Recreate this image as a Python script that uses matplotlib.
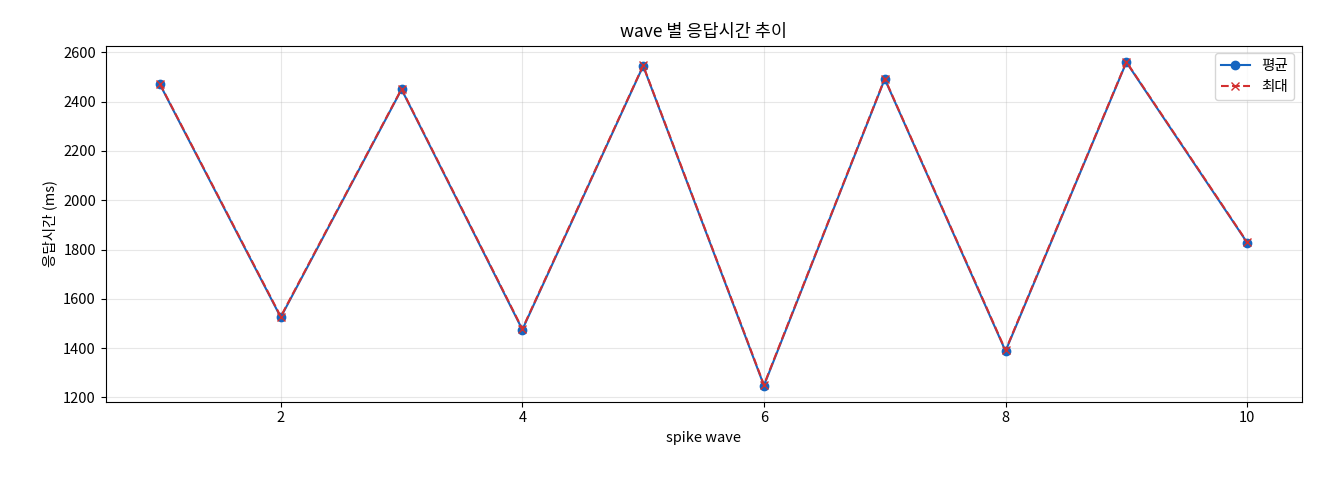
import matplotlib

matplotlib.use("Agg")

import matplotlib.pyplot as plt

plt.rcParams["font.family"] = ["Noto Sans CJK KR", "DejaVu Sans"]
plt.rcParams["font.size"] = 10.5

waves = [1, 2, 3, 4, 5, 6, 7, 8, 9, 10]
avg_ms = [2470, 1525, 2450, 1475, 2545, 1248, 2492, 1388, 2560, 1828]
max_ms = [2472, 1528, 2452, 1478, 2547, 1251, 2494, 1391, 2562, 1830]

fig, ax = plt.subplots(figsize=(13.2, 4.8), dpi=100)
ax.plot(waves, avg_ms, marker="o", color="#1565c0", label="평균")
ax.plot(waves, max_ms, marker="x", linestyle="--", color="#d32f2f", label="최대")
ax.set_title("wave 별 응답시간 추이")
ax.set_xlabel("spike wave")
ax.set_ylabel("응답시간 (ms)")
ax.grid(True, alpha=0.3)
ax.legend(loc="upper right")
fig.subplots_adjust(left=0.08, right=0.986, top=0.905, bottom=0.163)
fig.savefig("out.png", dpi=100)
plt.close(fig)
